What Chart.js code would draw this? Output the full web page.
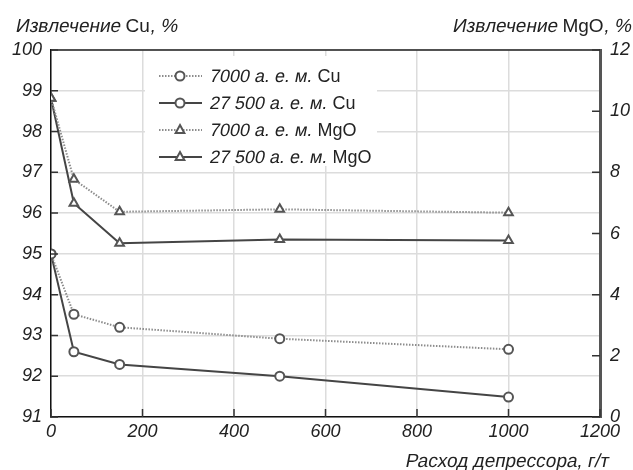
<!DOCTYPE html>
<html>
<head>
<meta charset="utf-8">
<script src="https://cdn.jsdelivr.net/npm/chart.js@4/dist/chart.umd.min.js"></script>
<style>
  body { margin: 0; background: #fff; }
  #wrap { width: 633px; height: 470px; }
</style>
</head>
<body>
<div id="wrap"><canvas id="chart" width="633" height="470"></canvas></div>
<script>
"use strict";

// Data
const doses = [0, 50, 150, 500, 1000];           // расход депрессора, г/т
const cu7000 = [95.0, 93.52, 93.2, 92.92, 92.66];
const cu27500 = [95.0, 92.6, 92.29, 92.0, 91.49];
const mgo7000 = [10.42, 7.77, 6.71, 6.79, 6.68];
const mgo27500 = [10.42, 6.99, 5.68, 5.8, 5.77];

const leftTicks = [91, 92, 93, 94, 95, 96, 97, 98, 99, 100];
const rightTicks = [0, 2, 4, 6, 8, 10, 12];
const xTicks = [0, 200, 400, 600, 800, 1000, 1200];

const FONT = '"Liberation Sans", Arial, sans-serif';
const TEXT = '#222';
const DOT_COLOR = '#8c8c8c';
const SOLID_COLOR = '#454545';
const MARK_COLOR = '#555';

const toPoints = ys => doses.map((x, i) => ({ x: x, y: ys[i] }));

const series = [
    { num: '7000', unit: 'Cu', data: cu7000, axis: 'y', dotted: true, style: 'circle' },
    { num: '27 500', unit: 'Cu', data: cu27500, axis: 'y', dotted: false, style: 'circle' },
    { num: '7000', unit: 'MgO', data: mgo7000, axis: 'y1', dotted: true, style: 'triangle' },
    { num: '27 500', unit: 'MgO', data: mgo27500, axis: 'y1', dotted: false, style: 'triangle' }
];

// text made of oblique / upright pieces (oblique = skewed upright font)
const mixedText = (ctx, parts, x, y, align, size) => {
    ctx.font = size + 'px ' + FONT;
    let total = 0;
    parts.forEach(p => { total += ctx.measureText(p[0]).width; });
    let cx = align === 'right' ? x - total : x;
    parts.forEach(p => {
        ctx.save();
        ctx.translate(cx, y);
        if (p[1]) ctx.transform(1, 0, -0.2, 1, 0, 0);
        ctx.fillText(p[0], 0, 0);
        ctx.restore();
        cx += ctx.measureText(p[0]).width;
    });
};

const drawMarker = (ctx, style, x, y) => {
    ctx.save();
    ctx.lineWidth = 2;
    ctx.strokeStyle = MARK_COLOR;
    ctx.fillStyle = '#fff';
    ctx.beginPath();
    if (style === 'circle') {
        ctx.arc(x, y, 4.5, 0, Math.PI * 2);
    } else {
        const r = 5;
        ctx.moveTo(x, y - r);
        ctx.lineTo(x + r * 0.87, y + r * 0.6);
        ctx.lineTo(x - r * 0.87, y + r * 0.6);
        ctx.closePath();
    }
    ctx.fill();
    ctx.stroke();
    ctx.restore();
};

const decorPlugin = {
    id: 'decor',
    afterDraw(chart) {
        const ctx = chart.ctx;
        const area = chart.chartArea;
        const sx = chart.scales.x, sy = chart.scales.y, sy1 = chart.scales.y1;
        ctx.save();

        // top border
        ctx.strokeStyle = '#222';
        ctx.lineWidth = 1.5;
        ctx.beginPath();
        ctx.moveTo(area.left, area.top);
        ctx.lineTo(area.right, area.top);
        ctx.stroke();

        // inward tick marks
        ctx.strokeStyle = '#333';
        ctx.lineWidth = 1.5;
        ctx.beginPath();
        leftTicks.forEach(v => {
            const py = sy.getPixelForValue(v);
            ctx.moveTo(area.left, py);
            ctx.lineTo(area.left + 7, py);
        });
        rightTicks.forEach(v => {
            const py = sy1.getPixelForValue(v);
            ctx.moveTo(area.right - 8, py);
            ctx.lineTo(area.right, py);
        });
        xTicks.forEach(v => {
            const px = sx.getPixelForValue(v);
            ctx.moveTo(px, area.bottom);
            ctx.lineTo(px, area.bottom - 8);
        });
        ctx.stroke();

        // legend
        ctx.fillStyle = '#fff';
        ctx.fillRect(145, 56, 232, 110);
        const rows = [76, 103, 130, 157];
        series.forEach((s, i) => {
            const y = rows[i];
            ctx.save();
            ctx.strokeStyle = s.dotted ? DOT_COLOR : SOLID_COLOR;
            ctx.lineWidth = 2;
            ctx.setLineDash(s.dotted ? [1.5, 1.5] : []);
            ctx.beginPath();
            ctx.moveTo(159, y);
            ctx.lineTo(202, y);
            ctx.stroke();
            ctx.restore();
            drawMarker(ctx, s.style, 180, y);
            ctx.fillStyle = TEXT;
            ctx.textBaseline = 'middle';
            mixedText(ctx, [[s.num + ' а. е. м.', true], [' ' + s.unit, false]], 210, y + 1, 'left', 18);
        });

        // axis titles
        ctx.fillStyle = TEXT;
        ctx.textBaseline = 'alphabetic';
        mixedText(ctx, [['Извлечение ', true], ['Cu', false], [', %', true]], 15, 32, 'left', 19);
        mixedText(ctx, [['Извлечение ', true], ['MgO', false], [', %', true]], 631, 32, 'right', 19);
        mixedText(ctx, [['Расход депрессора, г/т', true]], 608, 467, 'right', 19);

        ctx.restore();
    }
};

const tickFont = { family: FONT, size: 18, style: 'italic' };
const plain = v => String(v);

const chart = new Chart(document.getElementById('chart').getContext('2d'), {
    type: 'line',
    data: {
        datasets: series.map(s => ({
            label: s.num + ' а. е. м. ' + s.unit,
            data: toPoints(s.data),
            yAxisID: s.axis,
            borderColor: s.dotted ? DOT_COLOR : SOLID_COLOR,
            borderWidth: 2,
            borderDash: s.dotted ? [1.5, 1.5] : [],
            pointStyle: s.style,
            pointRadius: s.style === 'circle' ? 4.5 : 5,
            pointBorderWidth: 2,
            pointBorderColor: MARK_COLOR,
            pointBackgroundColor: '#fff',
            tension: 0,
            fill: false
        }))
    },
    options: {
        responsive: false,
        animation: false,
        layout: { padding: { top: 50, left: 0, right: 0, bottom: 0 } },
        plugins: {
            legend: { display: false },
            tooltip: { enabled: false }
        },
        scales: {
            x: {
                type: 'linear',
                min: 0,
                max: 1200,
                afterBuildTicks: s => { s.ticks = xTicks.map(v => ({ value: v })); },
                ticks: { font: tickFont, color: TEXT, padding: 4, maxRotation: 0, callback: plain },
                grid: { color: '#dcdcdc', lineWidth: 1.5, drawTicks: false },
                border: { color: '#111', width: 1.5 },
                afterFit: s => { s.height = 53; }
            },
            y: {
                position: 'left',
                min: 91,
                max: 100,
                afterBuildTicks: s => { s.ticks = leftTicks.map(v => ({ value: v })); },
                ticks: { font: tickFont, color: TEXT, padding: 9, callback: plain },
                grid: { color: '#dcdcdc', lineWidth: 1.5, drawTicks: false },
                border: { color: '#111', width: 1.5 },
                afterFit: s => { s.width = 51; }
            },
            y1: {
                position: 'right',
                min: 0,
                max: 12,
                afterBuildTicks: s => { s.ticks = rightTicks.map(v => ({ value: v })); },
                ticks: { font: tickFont, color: TEXT, padding: 10, callback: plain },
                grid: { drawOnChartArea: false, drawTicks: false },
                border: { color: '#555', width: 3 },
                afterFit: s => { s.width = 33; }
            }
        }
    },
    plugins: [decorPlugin]
});
</script>
</body>
</html>
